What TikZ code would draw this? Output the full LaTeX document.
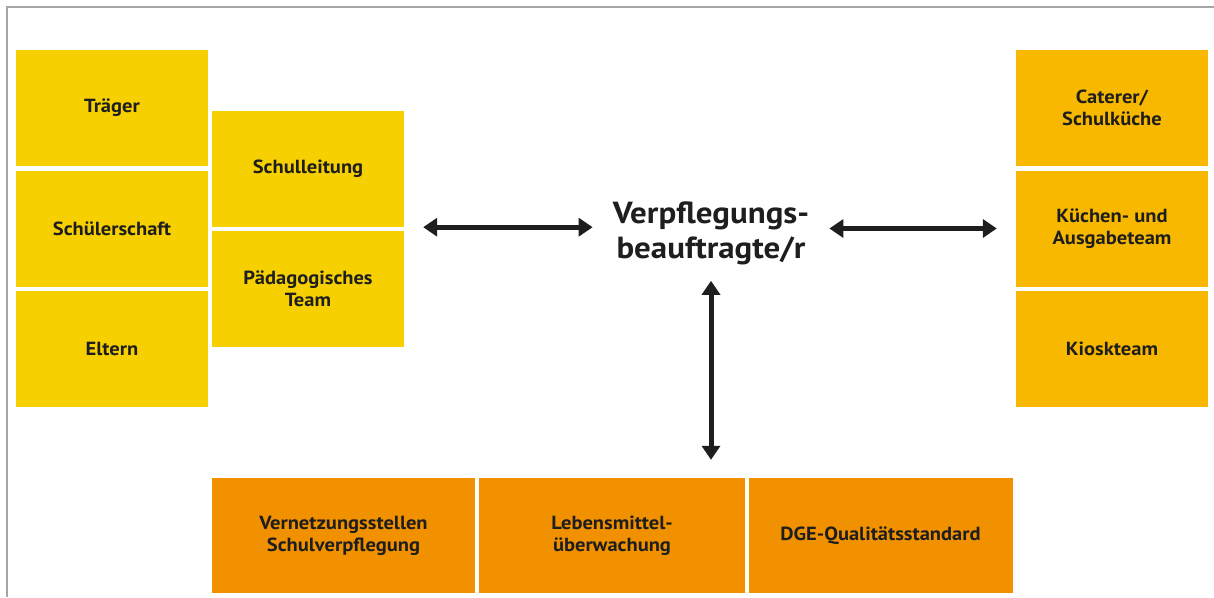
\documentclass[tikz,border=0pt]{standalone}
\usepackage{fontspec}
\setmainfont{PT Sans}
\newfontfamily\breit[FakeStretch=1.08]{PT Sans}
\usetikzlibrary{arrows.meta}

\definecolor{gelb}{HTML}{F6D000}
\definecolor{amber}{HTML}{F9B800}
\definecolor{orange}{HTML}{F29100}
\definecolor{schrift}{HTML}{1E1E1E}

\tikzset{
  feld/.style={minimum width=192pt, minimum height=116pt, inner sep=0pt,
    text=schrift, align=center, font=\breit\bfseries\fontsize{19}{22}\selectfont},
  links/.style={feld, fill=gelb},
  rechts/.style={feld, fill=amber},
  unten/.style={feld, fill=orange, minimum height=115pt},
  pfeil/.style={line width=5pt, schrift, {Triangle[width=18pt,length=14pt]}-{Triangle[width=18pt,length=14pt]}}
}

\begin{document}
\begin{tikzpicture}[x=1pt,y=-1pt]
\useasboundingbox (0,0) rectangle (1214,597);
\draw[gray!70, line width=1.5pt] (7,597) -- (7,7) -- (1214,7);

% linke Spalte
\node[links] (traeger) at (112,108) {Träger};
\node[links] (schueler) at (112,228.5) {Schülerschaft};
\node[links] (eltern) at (112,349) {Eltern};
\node[links] (leitung) at (308,169) {Schulleitung};
\node[links] (team) at (308,289) {Pädagogisches\\Team};

% rechte Spalte
\node[rechts] (caterer) at (1112,108) {Caterer/\\Schulküche};
\node[rechts] (kueche) at (1112,228.5) {Küchen- und\\Ausgabeteam};
\node[rechts] (kiosk) at (1112,349) {Kioskteam};

% untere Reihe
\node[unten, minimum width=263pt] (vernetzung) at (343.5,535.5) {Vernetzungsstellen\\Schulverpflegung};
\node[unten, minimum width=266pt] (lebensmittel) at (612,535.5) {Lebensmittel-\\überwachung};
\node[unten, minimum width=264pt] (dge) at (880.5,535.5) {DGE-Qualitätsstandard};

% Mitte
\node[text=schrift, align=center, inner xsep=20pt, inner ysep=0pt,
  font=\breit\bfseries\fontsize{30.5}{35}\selectfont] (vb) at (711,233) {Verpflegungs-\\beauftragte/r};

\draw[pfeil] ([xshift=19pt]leitung.south east) -- (vb.west |- leitung.south);
\draw[pfeil] (vb.east |- kueche) -- ([xshift=-19pt]kueche.west);
\draw[pfeil, shorten <=16pt] (vb.south) -- ([yshift=18pt]vb.south |- lebensmittel.north);
%\draw[help lines] (0,0) grid[step=50] (1214,597);
\end{tikzpicture}
\end{document}
